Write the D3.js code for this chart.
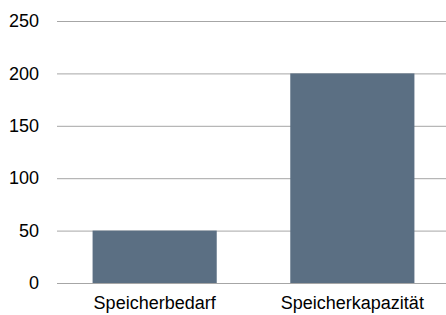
<!DOCTYPE html>
<html>
  <head>
    <meta charset="UTF-8">
    <title>Speicher</title>
    <script src="https://d3js.org/d3.v7.min.js"></script>
    <style>
      body { margin: 0; background: #fff; }
      text { font-family: "Liberation Sans", Arial, sans-serif; }
    </style>
  </head>
  <body>
    <div id="chart-container"></div>
  <script type="text/javascript">

    // Chart data
    const categories = ["Speicherbedarf", "Speicherkapazität"];
    const values = [50, 200];
    const yTicks = [0, 50, 100, 150, 200, 250];

    // Define the chart area
    const width = 446;
    const height = 315;
    const margin = ({top: 21, right: 0, bottom: 32, left: 57});

    // X axis: one band per category
    const x = d3.scaleBand()
        .domain(categories)
        .range([margin.left, 450])
        .paddingInner(0.372)
        .paddingOuter(0.18);

    // Y axis
    const y = d3.scaleLinear()
        .domain([0, 250])
        .range([height - margin.bottom, margin.top]);

    const yAxis = g => g
        .attr("transform", `translate(${margin.left},0)`)
        .call(d3.axisLeft(y).tickValues(yTicks).tickSize(-(width - margin.left)).tickPadding(18))
        .call(g => g.select(".domain").remove())
        .call(g => g.selectAll(".tick line").attr("stroke", "#a6a6a6").attr("stroke-width", 1))
        .call(g => g.selectAll(".tick text").attr("fill", "#000").attr("font-size", 18)
            .attr("font-family", "'Liberation Sans', Arial, sans-serif"));

    const xAxis = g => g
        .attr("transform", `translate(0,${height - margin.bottom})`)
        .call(d3.axisBottom(x).tickSize(0).tickPadding(13))
        .call(g => g.select(".domain").remove())
        .call(g => g.selectAll(".tick text").attr("fill", "#000").attr("font-size", 18)
            .attr("font-family", "'Liberation Sans', Arial, sans-serif"));

    // Create the chart
    const svg = d3.select("#chart-container")
        .append("svg")
        .attr("width", width)
        .attr("height", height)
        .attr("viewBox", `0 0 ${width} ${height}`);

    svg.append("g").call(yAxis);

    svg.append("g")
        .selectAll("rect")
        .data(values)
        .join("rect")
        .attr("x", (d, i) => x(categories[i]))
        .attr("y", d => y(d))
        .attr("width", x.bandwidth())
        .attr("height", d => y(0) - y(d))
        .attr("fill", "#5b6f83");

    svg.append("g").call(xAxis);
  </script>
  </body>
</html>
